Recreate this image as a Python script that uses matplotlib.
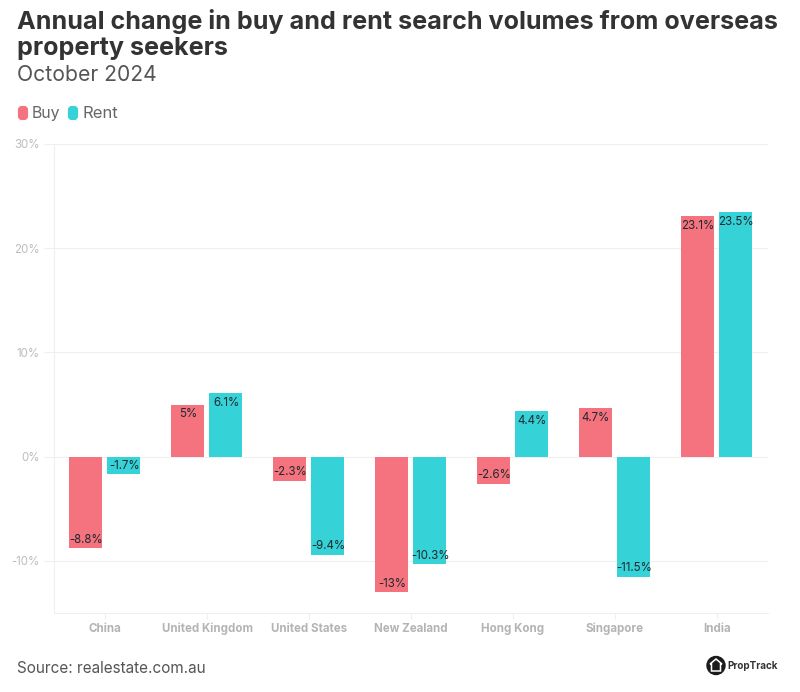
import matplotlib
matplotlib.use("Agg")
import matplotlib.pyplot as plt
from matplotlib.patches import FancyBboxPatch, Circle, Polygon

categories = ["China", "United Kingdom", "United States", "New Zealand", "Hong Kong", "Singapore", "India"]
buy_values = [-8.8, 5, -2.3, -13, -2.6, 4.7, 23.1]
rent_values = [-1.7, 6.1, -9.4, -10.3, 4.4, -11.5, 23.5]
y_ticks = [-10, 0, 10, 20, 30]
title_lines = ["Annual change in buy and rent search volumes from overseas", "property seekers"]
subtitle = "October 2024"
source = "Source: realestate.com.au"

BUY = "#F5727F"
RENT = "#35D2D8"
W, H = 800, 692
plt.rcParams["font.family"] = ["Inter", "DejaVu Sans"]

fig = plt.figure(figsize=(W / 100, H / 100), dpi=100, facecolor="white")
ax = fig.add_axes([54 / W, 1 - 613 / H, (768 - 54) / W, (613 - 144) / H])
ax.set_xlim(-0.5, 6.5)
ax.set_ylim(-15, 30)

bw = 0.323
off = 0.188
for i, (b, r) in enumerate(zip(buy_values, rent_values)):
    ax.bar(i - 0.005 - off, b, bw, color=BUY, zorder=3)
    ax.bar(i - 0.005 + off, r, bw, color=RENT, zorder=3)
    for x, v in ((i - off, b), (i + off, r)):
        ya = v + 0.8 if v < 0 else v - 0.95
        ax.text(x, ya, f"{v}%", ha="center", va="center", fontsize=8.3, color="#1f2a2e", zorder=4)

ax.set_yticks(y_ticks)
ax.set_yticklabels([f"{t}%" for t in y_ticks], fontsize=8.3, color="#bdbdbd")
ax.set_xticks(range(len(categories)))
ax.set_xticklabels(categories, fontsize=8.3, fontweight="bold", color="#b4b4b4")
ax.tick_params(axis="y", length=7, color="#efefef", width=0.8, pad=3.5)
ax.tick_params(axis="x", length=4, color="#efefef", width=0.8, pad=3)
ax.grid(axis="y", color="#efefef", linewidth=0.8, zorder=0)
ax.set_axisbelow(True)
for s in ("top", "right"):
    ax.spines[s].set_visible(False)
for s in ("left", "bottom"):
    ax.spines[s].set_color("#efefef")
    ax.spines[s].set_linewidth(0.8)

def T(x, y, s, **kw):
    fig.text(x / W, 1 - y / H, s, va="center", **kw)

T(17, 22, title_lines[0], fontsize=18.1, fontweight="bold", color="#333333")
T(17, 49, title_lines[1], fontsize=18.1, fontweight="bold", color="#333333")
T(17, 75, subtitle, fontsize=15.2, color="#555555")
T(32, 113.5, "Buy", fontsize=11.4, color="#666666")
T(83, 113.5, "Rent", fontsize=12, color="#666666")
T(17, 668.5, source, fontsize=11, color="#555555")
T(727, 666, "PropTrack", fontsize=7.1, fontweight="bold", color="#333333")

overlay = fig.add_axes([0, 0, 1, 1], facecolor="none")
overlay.set_xlim(0, W)
overlay.set_ylim(H, 0)
overlay.axis("off")
for x0, c in ((18, BUY), (68, RENT)):
    overlay.add_patch(FancyBboxPatch((x0 + 2, 108), 6, 10, boxstyle="round,pad=0,rounding_size=2",
                                     mutation_aspect=1, facecolor=c, edgecolor=c, linewidth=3))
overlay.add_patch(Circle((716, 665.5), 9, color="#1b1b1b"))
overlay.add_patch(Polygon([(716, 659), (722, 664), (720.5, 664), (720.5, 671), (711.5, 671), (711.5, 664), (710, 664)],
                          closed=True, facecolor="#1b1b1b", edgecolor="white", linewidth=1.1))

fig.savefig("out.png", dpi=100)
